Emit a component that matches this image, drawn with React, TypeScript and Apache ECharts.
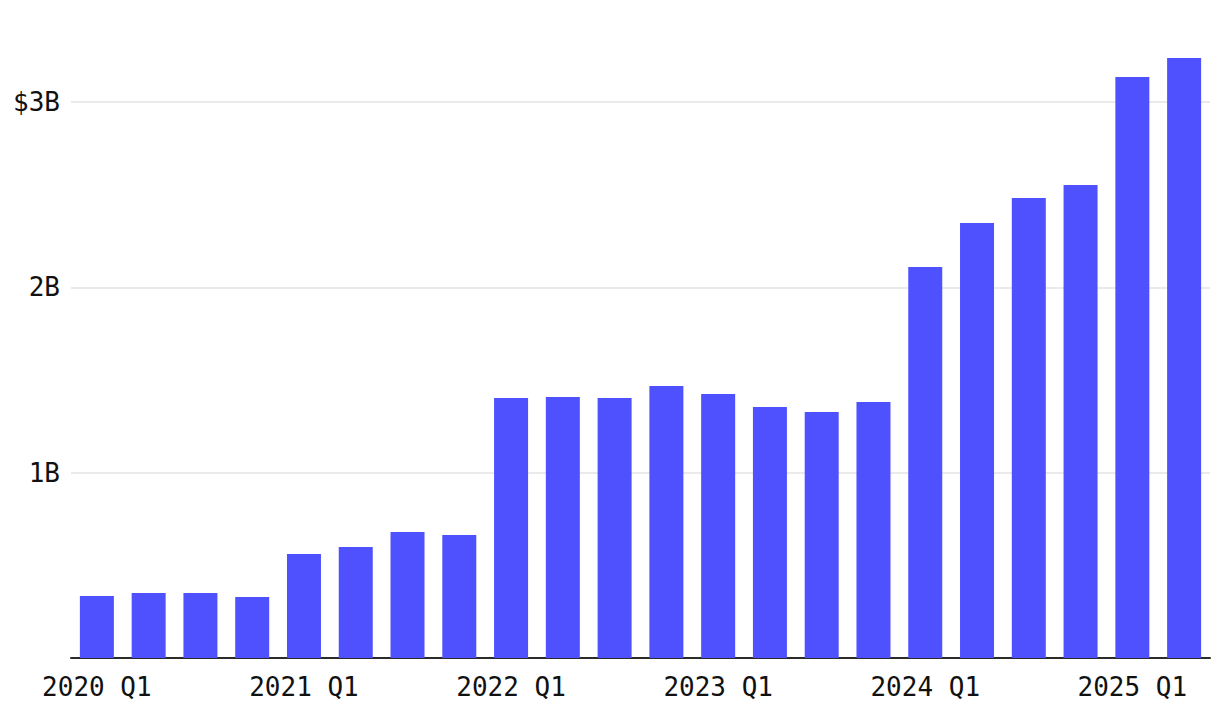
import React, { useEffect, useRef } from "react";
import * as echarts from "echarts";

const categories = [
  "2020 Q1", "2020 Q2", "2020 Q3", "2020 Q4",
  "2021 Q1", "2021 Q2", "2021 Q3", "2021 Q4",
  "2022 Q1", "2022 Q2", "2022 Q3", "2022 Q4",
  "2023 Q1", "2023 Q2", "2023 Q3", "2023 Q4",
  "2024 Q1", "2024 Q2", "2024 Q3", "2024 Q4",
  "2025 Q1", "2025 Q2",
];

// values in billions of dollars
const values = [
  0.335, 0.351, 0.351, 0.329,
  0.561, 0.599, 0.680, 0.664,
  1.403, 1.408, 1.403, 1.468,
  1.425, 1.355, 1.328, 1.382,
  2.110, 2.348, 2.483, 2.553,
  3.136, 3.238,
];

const yTickLabels: Record<number, string> = { 1: "1B", 2: "2B", 3: "$3B" };

const FONT = "'DejaVu Sans Mono', 'Liberation Mono', monospace";

export default function App() {
  const ref = useRef<HTMLDivElement>(null);

  useEffect(() => {
    if (!ref.current) return;
    const chart = echarts.init(ref.current, undefined, { renderer: "svg" });
    chart.setOption({
      animation: false,
      backgroundColor: "#ffffff",
      grid: { left: 71, right: 10, top: 9.5, bottom: 68, containLabel: false },
      xAxis: {
        type: "category",
        data: categories,
        axisTick: { show: false },
        axisLine: { show: true, lineStyle: { color: "#2b2b2b", width: 2 } },
        axisLabel: {
          interval: 3,
          margin: 16,
          color: "#111111",
          fontFamily: FONT,
          fontSize: 26,
        },
      },
      yAxis: {
        type: "value",
        min: 0,
        max: 3.5,
        interval: 1,
        axisLine: { show: false },
        axisTick: { show: false },
        splitLine: {
          show: true,
          lineStyle: {
            color: ["transparent", "#e3e3e3", "#e3e3e3", "#e3e3e3", "transparent"],
            width: 1.5,
          },
        },
        axisLabel: {
          margin: 11,
          color: "#111111",
          fontFamily: FONT,
          fontSize: 26,
          formatter: (v: number) => yTickLabels[v] ?? "",
        },
      },
      series: [
        {
          type: "bar",
          data: values,
          barWidth: 34,
          itemStyle: { color: "#4f51ff" },
        },
      ],
    });
    return () => chart.dispose();
  }, []);

  return (
    <div
      ref={ref}
      style={{ position: "fixed", left: 0, top: 0, width: 1220, height: 726 }}
    />
  );
}
